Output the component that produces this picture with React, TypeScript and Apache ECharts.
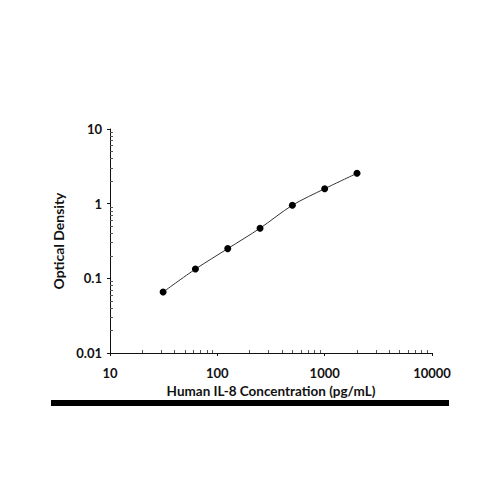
import React, { useEffect, useRef } from "react";
import * as echarts from "echarts";

const concentrations = [31.25, 62.5, 125, 250, 500, 1000, 2000];
const opticalDensity = [0.0655, 0.133, 0.25, 0.469, 0.952, 1.585, 2.55];
const xAxisTitle = "Human IL-8 Concentration (pg/mL)";
const yAxisTitle = "Optical Density";

const FONT = "Lato";

export default function App() {
  const ref = useRef<HTMLDivElement>(null);
  useEffect(() => {
    if (!ref.current) return;
    const chart = echarts.init(ref.current, undefined, { renderer: "svg" });
    const data = concentrations.map((c, i) => [c, opticalDensity[i]]);
    const minorOnlyX = {
      type: "log",
      logBase: 10,
      min: 10,
      max: 10000,
      position: "bottom",
      axisLine: { show: false },
      axisTick: { show: false, inside: true },
      minorTick: { show: true, splitNumber: 9, length: 3, lineStyle: { color: "#555" } },
      axisLabel: { show: false },
      splitLine: { show: false },
    };
    const minorOnlyY = {
      type: "log",
      logBase: 10,
      min: 0.01,
      max: 10,
      position: "left",
      axisLine: { show: false },
      axisTick: { show: false, inside: true },
      minorTick: { show: true, splitNumber: 9, length: 3, lineStyle: { color: "#555" } },
      axisLabel: { show: false },
      splitLine: { show: false },
    };
    chart.setOption({
      animation: false,
      backgroundColor: "#ffffff",
      grid: { left: 110, right: 68, top: 129, bottom: 147 },
      xAxis: [
        {
          type: "log",
          logBase: 10,
          min: 10,
          max: 10000,
          position: "bottom",
          name: xAxisTitle,
          nameLocation: "middle",
          nameGap: 31,
          nameTextStyle: { fontFamily: FONT, fontWeight: "bold", fontSize: 13.5, color: "#111" },
          axisLine: { show: true, lineStyle: { color: "#111", width: 1 } },
          axisTick: { show: true, inside: false, length: 3, lineStyle: { color: "#111" } },
          minorTick: { show: false },
          axisLabel: {
            fontFamily: FONT,
            fontWeight: "bold",
            fontSize: 13,
            color: "#111",
            margin: 13,
            formatter: (v: number) => String(Math.round(v)),
          },
          splitLine: { show: false },
        },
        minorOnlyX,
      ],
      yAxis: [
        {
          type: "log",
          logBase: 10,
          min: 0.01,
          max: 10,
          position: "left",
          name: yAxisTitle,
          nameLocation: "middle",
          nameGap: 42,
          nameTextStyle: { fontFamily: FONT, fontWeight: "bold", fontSize: 14, color: "#111" },
          axisLine: { show: true, lineStyle: { color: "#111", width: 1 } },
          axisTick: { show: true, inside: false, length: 3, lineStyle: { color: "#111" } },
          minorTick: { show: false },
          axisLabel: {
            fontFamily: FONT,
            fontWeight: "bold",
            fontSize: 13,
            color: "#111",
            margin: 8,
            formatter: (v: number) => {
              if (v >= 1) return String(Math.round(v));
              return String(Number(v.toPrecision(1)));
            },
          },
          splitLine: { show: false },
        },
        minorOnlyY,
      ],
      graphic: [
        {
          type: "rect",
          shape: { x: 51, y: 400, width: 398, height: 6 },
          style: { fill: "#000" },
          z: -1,
        },
      ],
      series: [
        {
          type: "line",
          xAxisIndex: 0,
          yAxisIndex: 0,
          data,
          smooth: 0.3,
          symbol: "circle",
          symbolSize: 7,
          itemStyle: { color: "#000" },
          lineStyle: { color: "#333", width: 1 },
        },
      ],
    });
    return () => chart.dispose();
  }, []);
  return <div ref={ref} style={{ width: 500, height: 500, margin: -8 }} />;
}
